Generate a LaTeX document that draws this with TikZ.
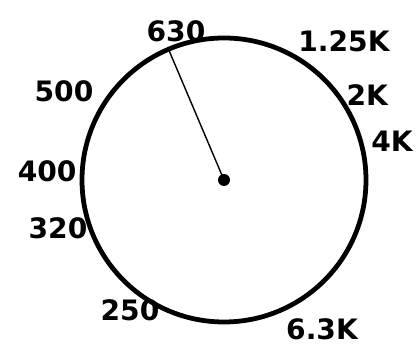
\documentclass[tikz,border=0pt]{standalone}
\usepackage{fontspec}
\setsansfont{DejaVu Sans}
\usepackage{tikz}

\begin{document}
\begin{tikzpicture}[>=stealth,
  freq/.style={font=\sffamily\bfseries\fontsize{20}{24}\selectfont, inner sep=0pt}]
  \useasboundingbox (0,0) rectangle (10.5,8.7);

  \node[draw, circle, line width=3.4pt, minimum size=7.1cm, inner sep=0pt] (dial) at (5.6,4.2) {};
  \node[circle, fill, minimum size=0.3cm, inner sep=0pt] (hub) at (dial.center) {};
  \draw[line width=1pt] (hub.center) -- (dial.113);

  \node[freq] (f630) at (4.4,7.93) {630};
  \node[freq] (f1k25) at (8.6,7.68) {1.25K};
  \node[freq] (f500) at (1.6,6.43) {500};
  \node[freq] (f2k) at (9.18,6.33) {2K};
  \node[freq] (f4k) at (9.8,5.18) {4K};
  \node[freq] (f400) at (1.18,4.43) {400};
  \node[freq] (f320) at (1.45,3.0) {320};
  \node[freq] (f250) at (3.25,0.95) {250};
  \node[freq] (f6k3) at (8.05,0.48) {6.3K};
\end{tikzpicture}
\end{document}
